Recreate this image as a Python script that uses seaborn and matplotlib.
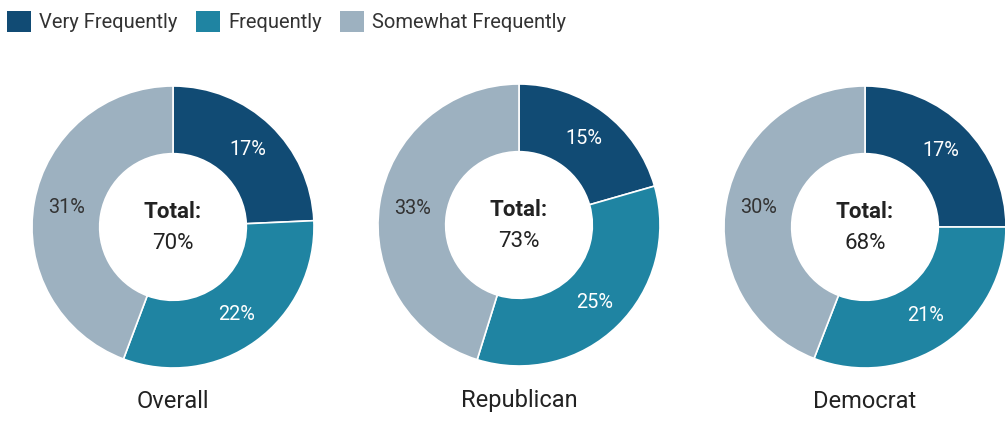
import math
import matplotlib
matplotlib.use("Agg")
import matplotlib.pyplot as plt
from matplotlib.patches import Patch
import seaborn as sns

# Survey shares (percent of respondents) by group
groups = ["Overall", "Republican", "Democrat"]
levels = ["Very Frequently", "Frequently", "Somewhat Frequently"]
very_frequently = [17, 15, 17]
frequently = [22, 25, 21]
somewhat_frequently = [31, 33, 30]
totals = [70, 73, 68]

sns.set_theme(style="white")
plt.rcParams["font.family"] = ["Roboto", "DejaVu Sans"]

palette = sns.color_palette(["#114b74", "#1f84a2", "#9db1c0"])
label_colors = ["white", "white", "#333333"]
text_dark = "#222222"

W, H = 1005, 424
fig = plt.figure(figsize=(W / 100, H / 100), dpi=100)

centers_x = [173, 519, 865]
centers_y = [227, 225, 227]
radius_px = 141

for i, name in enumerate(groups):
    cx, cy = centers_x[i], centers_y[i]
    ax = fig.add_axes([(cx - radius_px) / W, (H - cy - radius_px) / H,
                       2 * radius_px / W, 2 * radius_px / H])
    vals = [very_frequently[i], frequently[i], somewhat_frequently[i]]
    ax.pie(vals, colors=palette, startangle=90, counterclock=False, radius=1.0,
           wedgeprops=dict(width=0.48, edgecolor="white", linewidth=1.2))
    # value labels at the middle of each ring segment
    total = sum(vals)
    start = 90.0
    for v, col in zip(vals, label_colors):
        span = 360.0 * v / total
        mid = math.radians(start - span / 2)
        ax.text(0.765 * math.cos(mid), 0.765 * math.sin(mid), f"{v}%",
                ha="center", va="center", fontsize=14.3, color=col)
        start -= span
    ax.text(0, 0.105, "Total:", ha="center", va="center", fontsize=16,
            fontweight="bold", color=text_dark)
    ax.text(0, -0.12, f"{totals[i]}%", ha="center", va="center", fontsize=16,
            color=text_dark)
    ax.set_xlim(-1, 1)
    ax.set_ylim(-1, 1)
    ax.set_aspect("equal")
    ax.axis("off")
    fig.text(cx / W, 1 - 401 / H, name, ha="center", va="center",
             fontsize=17, color=text_dark)

handles = [Patch(facecolor=c, edgecolor="none") for c in palette]
fig.legend(handles, levels, loc="upper left", bbox_to_anchor=(7 / W, 1 - 11 / H),
           ncol=3, frameon=False, fontsize=14.5, handlelength=1.2,
           handleheight=1.25, handletextpad=0.4, columnspacing=0.9,
           borderaxespad=0, borderpad=0, labelcolor="#333333")

fig.savefig("out.png", dpi=100, facecolor="white")
